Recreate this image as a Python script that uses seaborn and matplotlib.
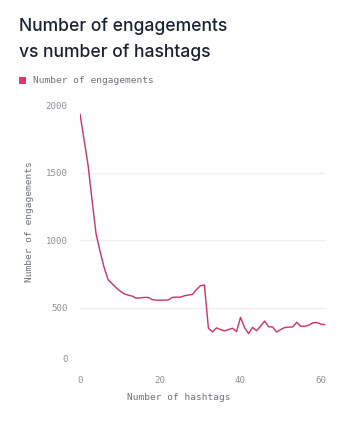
import numpy as np
import pandas as pd
import matplotlib
matplotlib.use("Agg")
import matplotlib.pyplot as plt
import seaborn as sns
from matplotlib.patches import Rectangle

# ---- data ----
hashtags = list(range(0, 62))
engagements = [1937, 1750, 1560, 1300, 1050, 920, 800, 710, 680, 650,
               625, 605, 595, 588, 572, 575, 578, 578, 562, 558,
               558, 558, 560, 578, 580, 580, 590, 596, 600, 635,
               665, 670, 350, 322, 352, 340, 330, 340, 350, 325,
               430, 355, 310, 356, 331, 365, 403, 361, 359, 322,
               340, 355, 358, 360, 394, 365, 365, 372, 390, 392,
               380, 376]
ytick_values = [122, 500, 1000, 1500, 2000]
ytick_labels = ["0", "500", "1000", "1500", "2000"]
xtick_values = [0, 20, 40, 60]
title = "Number of engagements\nvs number of hashtags"
series_name = "Number of engagements"
xlabel = "Number of hashtags"
ylabel = "Number of engagements"

df = pd.DataFrame({"hashtags": hashtags, "engagements": engagements})

sns.set_theme(style="white")
plt.rcParams["font.family"] = ["Inter", "DejaVu Sans"]

W, H = 350, 422
fig = plt.figure(figsize=(W / 100, H / 100), dpi=100)
fig.patch.set_facecolor("white")
left, right, top, bottom = 80, 326, 105.5, 359
ax = fig.add_axes([left / W, 1 - bottom / H, (right - left) / W, (bottom - top) / H])

line_color = "#cc3a6c"
sns.lineplot(data=df, x="hashtags", y="engagements", ax=ax, color=line_color,
             linewidth=1.05)

ax.set_xlim(0, 61.3)
ax.set_ylim(ytick_values[0], ytick_values[-1])
ax.set_yticks(ytick_values)
ax.set_yticklabels(ytick_labels)
ax.set_xticks(xtick_values)
ax.set_xticklabels([str(v) for v in xtick_values])
ax.grid(axis="y", color="#f0f0f2", linewidth=1.0)
ax.grid(axis="x", visible=False)
for s in ax.spines.values():
    s.set_visible(False)
ax.tick_params(axis="both", length=0, labelsize=6.6, labelcolor="#8d9096")
ax.tick_params(axis="y", pad=9)
ax.tick_params(axis="x", pad=12)
for lab in ax.get_xticklabels() + ax.get_yticklabels():
    lab.set_fontfamily("DejaVu Sans Mono")
ax.set_xlabel("")
ax.set_ylabel("")

mono = "DejaVu Sans Mono"
fig.text(179 / W, 1 - 397 / H, xlabel, ha="center", va="center",
         fontsize=6.8, color="#6f737a", family=mono)
fig.text(30 / W, 1 - 222 / H, ylabel, ha="center", va="center", rotation=90,
         fontsize=6.8, color="#6f737a", family=mono)

fig.text(19 / W, 1 - 39 / H, title, ha="left", va="center", fontsize=12.6,
         color="#1b2333", fontweight="medium", linespacing=1.6)

fig.patches.append(Rectangle((19 / W, 1 - 84 / H), 7 / W, 7 / H,
                             transform=fig.transFigure, facecolor="#e0396f",
                             edgecolor="none"))
fig.text(33 / W, 1 - 80.5 / H, series_name, ha="left", va="center",
         fontsize=6.8, color="#6f737a", family=mono)

fig.savefig("out.png", dpi=100, facecolor="white")
